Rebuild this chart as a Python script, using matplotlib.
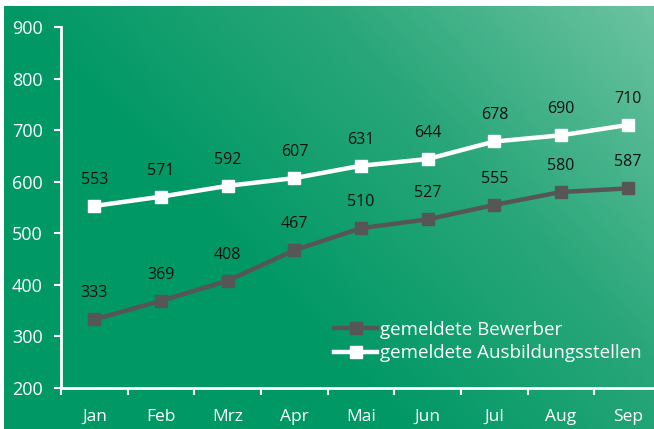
import numpy as np
import matplotlib
matplotlib.use("Agg")
import matplotlib.pyplot as plt
from matplotlib.colors import LinearSegmentedColormap

months = ["Jan", "Feb", "Mrz", "Apr", "Mai", "Jun", "Jul", "Aug", "Sep"]
bewerber = [333, 369, 408, 467, 510, 527, 555, 580, 587]
stellen = [553, 571, 592, 607, 631, 644, 678, 690, 710]

plt.rcParams["font.family"] = ["Open Sans", "DejaVu Sans"]

W, H = 654, 429
fig = plt.figure(figsize=(W / 100, H / 100), dpi=100)
fig.patch.set_facecolor("white")

# gradient background (dark green bottom-left -> light green top-right)
bg = fig.add_axes([4 / W, 0, 1 - 4 / W, 1 - 6 / H])
bg.set_axis_off()
xx, yy = np.meshgrid(np.linspace(0, 1, 300), np.linspace(0, 1, 200))
t = np.clip(xx + 0.6 * yy - 0.6, 0, 1)
cmap = LinearSegmentedColormap.from_list("g", ["#009865", "#2aa77a", "#6cc3a2"])
bg.imshow(t, cmap=cmap, origin="lower", aspect="auto", extent=[0, 1, 0, 1],
          vmin=0, vmax=1)

# plot axes: left spine at x=60, right edge beyond figure (~661)
x0, x1 = 61 / W, 661 / W
y_top, y_bot = 27 / H, 388 / H
ax = fig.add_axes([x0, 1 - y_bot, x1 - x0, y_bot - y_top])
ax.patch.set_alpha(0)

x = np.arange(len(months))
ax.plot(x, bewerber, color="#565656", lw=3.2, marker="s", ms=8, label="gemeldete Bewerber")
ax.plot(x, stellen, color="white", lw=3.2, marker="s", ms=8, label="gemeldete Ausbildungsstellen")

for xi, v in zip(x, bewerber):
    ax.annotate(str(v), (xi, v), xytext=(0, 13), textcoords="offset points",
                ha="center", va="bottom", fontsize=11.5, color="#111111")
for xi, v in zip(x, stellen):
    ax.annotate(str(v), (xi, v), xytext=(0, 13), textcoords="offset points",
                ha="center", va="bottom", fontsize=11.5, color="#111111")

ax.set_xlim(-0.5, len(months) - 0.5)
ax.set_ylim(200, 900)
ax.set_yticks(range(200, 901, 100))
ax.set_xticks(x)
ax.set_xticklabels(months)
ax.set_xticks(np.arange(-0.5, len(months), 1), minor=True)
ax.tick_params(axis="x", which="major", length=0, pad=15, labelsize=12.5, labelcolor="white")
ax.tick_params(axis="x", which="minor", length=5, width=1.5, color="white", direction="out")
ax.tick_params(axis="y", length=5, width=1.5, color="white", labelsize=13, labelcolor="white", pad=8)

for s in ["top", "right"]:
    ax.spines[s].set_visible(False)
for s in ["left", "bottom"]:
    ax.spines[s].set_color("white")
    ax.spines[s].set_linewidth(2)

leg = ax.legend(loc="lower left", bbox_to_anchor=(0.44, 0.045), frameon=False,
                fontsize=13.5, labelcolor="white", handlelength=2.3, handletextpad=0.15,
                labelspacing=0.3, borderpad=0)

fig.savefig("out.png", dpi=100)
